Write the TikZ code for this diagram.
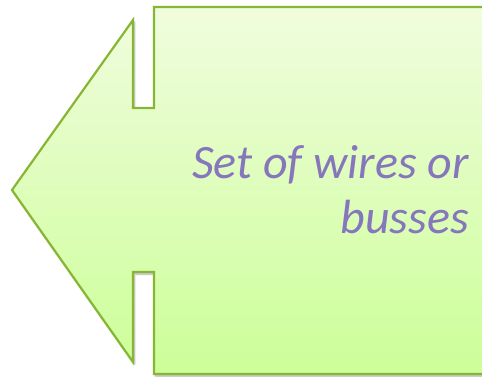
\documentclass[tikz,border=0pt]{standalone}
\usepackage{fontspec}
\setmainfont{Carlito}
\usetikzlibrary{shadows.blur}
\definecolor{edgegreen}{RGB}{134,182,50}
\definecolor{topfill}{RGB}{240,253,222}
\definecolor{botfill}{RGB}{204,254,152}
\definecolor{txtpurple}{RGB}{134,118,188}
\tikzset{
  callout/.style={draw=edgegreen, line width=2.2pt, line join=miter,
    top color=topfill, bottom color=botfill,
    blur shadow={shadow xshift=1.5pt, shadow yshift=-2pt, shadow blur steps=6, shadow opacity=35}},
  calltext/.style={text=txtpurple, font=\fontsize{48}{55}\selectfont\itshape, align=right, anchor=north east, inner sep=0pt}
}
\begin{document}
\begin{tikzpicture}[x=1pt,y=-1pt]
\useasboundingbox (0,0) rectangle (482,376);
\begin{scope}
\clip (0,0) rectangle (482,376);
\path[callout] (12,190) -- (133,20) -- (133,108) -- (154,108) -- (154,7) -- (492,7) -- (492,374) -- (154,374) -- (154,272) -- (133,272) -- (133,362) -- cycle;
\end{scope}
\node[calltext] (label) at (469,145) {Set of wires or\\busses};
\end{tikzpicture}
\end{document}
